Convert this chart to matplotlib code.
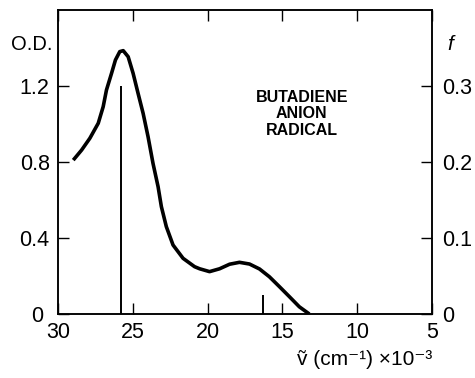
import matplotlib
matplotlib.use("Agg")
import matplotlib.pyplot as plt
import numpy as np

# Absorption curve (wavenumber x10^-3 cm^-1, O.D.)
wavenumber = [28.98, 28.42, 27.87, 27.31, 26.98, 26.76, 26.42, 26.16, 25.87, 25.64,
              25.31, 24.98, 24.65, 24.31, 23.98, 23.65, 23.31, 23.09, 22.76, 22.31,
              21.64, 20.87, 20.53, 19.87, 19.2, 18.53, 17.87, 17.2, 16.53, 15.87,
              15.2, 14.53, 13.87, 13.2]
optical_density = [0.81, 0.863, 0.925, 1.004, 1.091, 1.179, 1.267, 1.337, 1.381, 1.386,
                   1.354, 1.267, 1.162, 1.056, 0.933, 0.793, 0.67, 0.565, 0.46, 0.363,
                   0.293, 0.249, 0.238, 0.223, 0.238, 0.262, 0.272, 0.263, 0.237, 0.196,
                   0.144, 0.091, 0.038, 0.0]

# Calculated transitions (wavenumber x10^-3, oscillator strength f)
stick_positions = [25.8, 16.3]
stick_strengths = [0.30, 0.025]

x_ticks = [30, 25, 20, 15, 10, 5]
x_tick_labels = ["30", "25", "20", "15", "10", "5"]
od_ticks = [0, 0.4, 0.8, 1.2]
od_tick_labels = ["0 ", "0.4", "0.8", "1.2"]
f_ticks = [0, 0.1, 0.2, 0.3]
f_tick_labels = ["0", "0.1", "0.2", "0.3"]

plt.rcParams['font.family'] = ['Liberation Sans', 'DejaVu Sans']

fig = plt.figure(figsize=(4.75, 3.78), dpi=100)
ax = fig.add_axes([58/475, 1-314/378, (432-58)/475, (314-10)/378])
ax2 = ax.twinx()

ax.plot(wavenumber, optical_density, color='black', lw=2.6,
        solid_capstyle='butt', solid_joinstyle='round')
ax.set_xlim(30, 5)
ax.set_ylim(0, 1.6)
ax2.set_ylim(0, 0.4)
ax2.vlines(stick_positions, 0, stick_strengths, color='black', lw=1.4)

for s in ax.spines.values():
    s.set_linewidth(1.1)
for s in ax2.spines.values():
    s.set_linewidth(1.1)

ax.set_xticks(x_ticks)
ax.set_xticklabels(x_tick_labels)
ax.set_yticks(od_ticks)
ax.set_yticklabels(od_tick_labels)
ax.tick_params(axis='x', direction='in', length=8, width=1.0, top=True,
               labelsize=15.5, pad=6)
ax.tick_params(axis='y', direction='in', length=8, width=1.0,
               labelsize=15.5, pad=6)
ax2.set_yticks(f_ticks)
ax2.set_yticklabels(f_tick_labels)
ax2.tick_params(axis='y', direction='in', length=8, width=1.0,
                labelsize=15.5, pad=7)

ax.text(-0.015, 0.885, "O.D.", transform=ax.transAxes, ha='right', va='center',
        fontsize=14.5)
ax.text(1.04, 0.885, "f", transform=ax.transAxes, ha='left', va='center',
        fontsize=15, style='italic')
ax.text(0.652, 0.658, "BUTADIENE\nANION\nRADICAL", transform=ax.transAxes,
        ha='center', va='center', fontsize=11.5, linespacing=1.15,
        weight='bold')
ax.text(1.0, -0.15, "ṽ (cm⁻¹) ×10⁻³", transform=ax.transAxes,
        ha='right', va='center', fontsize=15)

fig.savefig("out.png", dpi=100)
